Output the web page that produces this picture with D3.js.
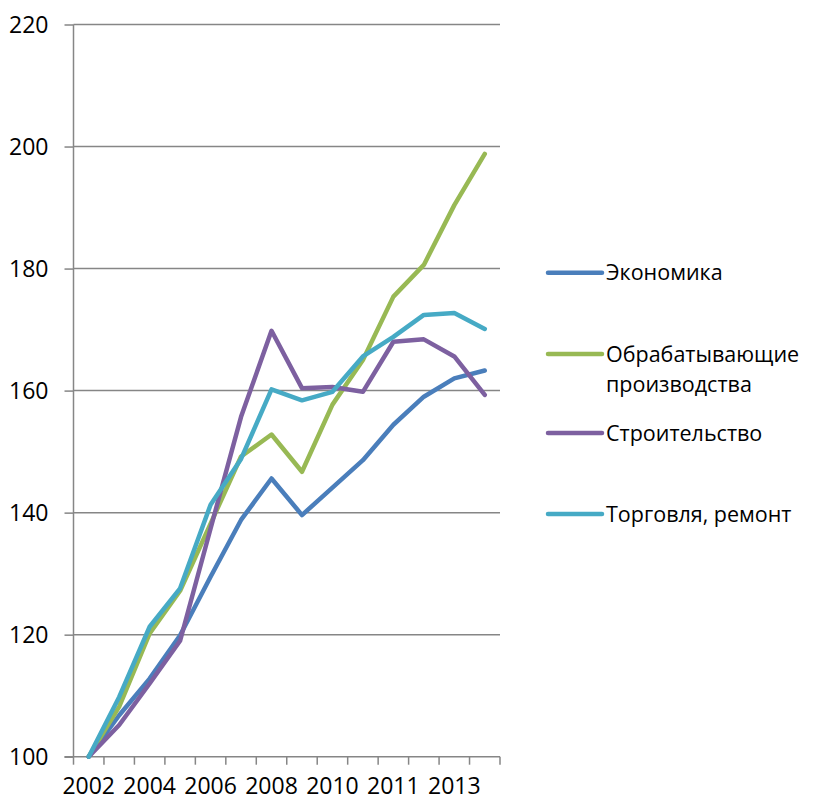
<!DOCTYPE html>
<html>
<head>
<meta charset="utf-8">
<script src="https://cdn.jsdelivr.net/npm/d3@7"></script>
<style>
  body { margin: 0; background: #fff; }
  svg text { font-family: "Open Sans", sans-serif; fill: #000; }
</style>
</head>
<body>
<svg id="chart" width="815" height="804"></svg>
<script>
// categories (only every second one is labelled on the axis)
var years = ["2002", "2003", "2004", "2005", "2006", "2007", "2008",
             "2009", "2010", "2010", "2011", "2012", "2013", "2014"];

var economy      = [100, 106.8, 112.8, 119.9, 129.5, 138.8, 145.6, 139.6, 144.1, 148.6, 154.4, 159.0, 162.0, 163.3];
var manufacture  = [100, 108.2, 120.2, 127.2, 138.2, 149.2, 152.8, 146.7, 157.7, 165.0, 175.4, 180.6, 190.4, 198.8];
var construction = [100, 105.2, 112.0, 119.0, 137.4, 155.7, 169.8, 160.4, 160.6, 159.8, 168.0, 168.4, 165.6, 159.3];
var trade        = [100, 109.8, 121.3, 127.6, 141.3, 148.8, 160.2, 158.4, 159.8, 165.6, 168.8, 172.4, 172.7, 170.1];

var seriesNames  = ["Экономика", "Обрабатывающие производства", "Строительство", "Торговля, ремонт"];
var legendLines  = [["Экономика"], ["Обрабатывающие", "производства"], ["Строительство"], ["Торговля, ремонт"]];
var colors       = ["#4a7ebb", "#98b954", "#7d60a0", "#46aac5"];
var yTicks       = [100, 120, 140, 160, 180, 200, 220];

var series = [economy, manufacture, construction, trade];

var svg = d3.select("#chart");
var mLeft = 73.5, mRight = 500, mTop = 24.5, mBottom = 756.7;

var x = d3.scaleBand().domain(d3.range(years.length)).range([mLeft, mRight]).padding(0);
var y = d3.scaleLinear().domain([100, 220]).range([mBottom, mTop]);

// horizontal grid
svg.append("g").selectAll("line")
  .data(yTicks.slice(1))
  .enter().append("line")
  .attr("x1", mLeft).attr("x2", mRight)
  .attr("y1", function(d) { return y(d); })
  .attr("y2", function(d) { return y(d); })
  .attr("stroke", "#868686").attr("stroke-width", 1.5);

// y axis
var yAxis = svg.append("g")
  .attr("transform", "translate(" + mLeft + ",0)")
  .call(d3.axisLeft(y).tickValues(yTicks).tickSize(9).tickPadding(16));
yAxis.selectAll("line, path").attr("stroke", "#868686").attr("stroke-width", 1.5);
yAxis.select(".domain").attr("d", "M0," + mTop + "V" + mBottom);
yAxis.selectAll("text").style("font-size", "23px").attr("dy", "0.36em");

// x axis: ticks at band edges, labels in the bands
var edges = d3.range(years.length + 1).map(function(i) { return mLeft + i * x.step(); });
var xg = svg.append("g");
xg.append("line")
  .attr("x1", mLeft - 9).attr("x2", mRight)
  .attr("y1", mBottom).attr("y2", mBottom)
  .attr("stroke", "#868686").attr("stroke-width", 1.5);
xg.selectAll("line.tick")
  .data(edges)
  .enter().append("line").attr("class", "tick")
  .attr("x1", function(d) { return d; }).attr("x2", function(d) { return d; })
  .attr("y1", mBottom).attr("y2", mBottom + 8)
  .attr("stroke", "#868686").attr("stroke-width", 1.5);
xg.selectAll("text")
  .data(d3.range(years.length).filter(function(i) { return i % 2 === 0; }))
  .enter().append("text")
  .attr("x", function(i) { return x(i) + x.bandwidth() / 2; })
  .attr("y", 786)
  .attr("dy", "0.36em")
  .attr("text-anchor", "middle")
  .style("font-size", "23px")
  .text(function(i) { return years[i]; });

// lines
var line = d3.line()
  .x(function(d, i) { return x(i) + x.bandwidth() / 2; })
  .y(function(d) { return y(d); });

svg.append("g").selectAll("path")
  .data(series)
  .enter().append("path")
  .attr("d", line)
  .attr("fill", "none")
  .attr("stroke", function(d, i) { return colors[i]; })
  .attr("stroke-width", 4.5)
  .attr("stroke-linejoin", "round")
  .attr("stroke-linecap", "round");

// legend
var legendY = [272.7, 354, 433, 514];
var lg = svg.append("g").selectAll("g")
  .data(seriesNames)
  .enter().append("g")
  .attr("transform", function(d, i) { return "translate(548," + legendY[i] + ")"; });
lg.append("line")
  .attr("x1", 0).attr("x2", 54)
  .attr("stroke", function(d, i) { return colors[i]; })
  .attr("stroke-width", 4.5)
  .attr("stroke-linecap", "round");
lg.append("text")
  .attr("x", 58)
  .style("font-size", "21.5px")
  .each(function(d, i) {
    var t = d3.select(this);
    legendLines[i].forEach(function(s, k) {
      t.append("tspan").attr("x", 58).attr("y", k * 30).attr("dy", "0.36em").text(s);
    });
  });
</script>
</body>
</html>
